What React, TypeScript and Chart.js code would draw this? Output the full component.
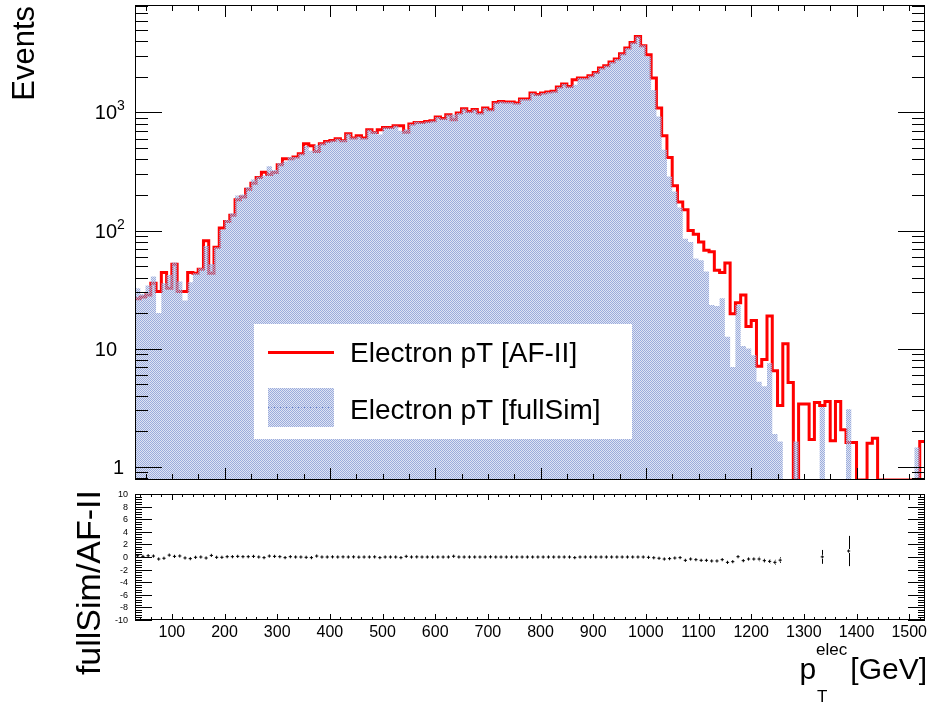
import React, { useEffect, useRef } from "react";
import { Chart, registerables } from "chart.js";

Chart.register(...registerables);

const FONT = "'Liberation Sans', Arial, Helvetica, sans-serif";

// Histogram binning: 150 bins of 10 GeV
const N_BINS = 150;
const PT_MIN = 30;
const BIN_WIDTH = 10;
const PT_MAX = PT_MIN + N_BINS * BIN_WIDTH;

const EVENTS_MIN = 0.771;
const EVENTS_MAX = 8130;
const RATIO_MIN = -10;
const RATIO_MAX = 10;

const binLowEdges = Array.from({ length: N_BINS }, (_, i) => PT_MIN + i * BIN_WIDTH);
const binCenters = binLowEdges.map((e) => e + BIN_WIDTH / 2);

// Electron pT, fast simulation (AF-II)
const afII: number[] = [
  26.4, 27.3, 28.5, 35.8, 30.4, 44, 32.5, 51.9, 30.4, 30.4,
  44, 43.5, 47, 81.8, 43.5, 72.3, 105, 119, 135, 182,
  192, 224, 252, 281, 312, 298, 310, 360, 405, 405,
  419, 447, 543, 522, 467, 543, 568, 578, 598, 576,
  660, 607, 635, 607, 713, 676, 713, 746, 746, 771,
  771, 680, 797, 823, 823, 840, 851, 914, 890, 955,
  867, 988, 1075, 1019, 1060, 988, 1090, 1055, 1216, 1240,
  1225, 1225, 1200, 1298, 1298, 1459, 1420, 1459, 1490, 1510,
  1640, 1740, 1660, 1893, 1955, 1955, 2046, 2183, 2378, 2487,
  2673, 2835, 3143, 3514, 3920, 4404, 3675, 3083, 1955, 1090,
  635, 416, 239, 174, 150, 100, 93, 80, 68, 66,
  46, 44, 53, 19.7, 24.5, 28.5, 15.4, 17.3, 7.1, 8.1,
  18.9, 6.5, 3.3, 11, 5.15, 0, 3.4, 3.4, 1.7, 3.5,
  3.3, 3.56, 1.66, 3.56, 2.05, 1.6, 1.6, 0, 0, 1.58,
  1.74, 0, 0, 0, 0, 0, 0, 0, 0, 1.63,
];

// Electron pT, full simulation
const fullSim: number[] = [
  32.5, 29, 34.2, 40.7, 20, 35.8, 42, 53.5, 37, 25.5,
  36.5, 43.5, 48, 74, 52, 72, 102, 123, 140, 198,
  202, 234, 270, 285, 292, 350, 325, 372, 385, 420,
  420, 447, 520, 475, 530, 545, 568, 578, 598, 585,
  660, 615, 625, 607, 713, 690, 650, 746, 746, 771,
  700, 720, 797, 835, 823, 840, 851, 914, 890, 955,
  960, 988, 1075, 1019, 1060, 988, 1090, 1055, 1216, 1240,
  1225, 1225, 1200, 1298, 1298, 1459, 1420, 1459, 1490, 1510,
  1640, 1740, 1660, 1720, 1955, 1955, 2046, 2183, 2378, 2487,
  2673, 2835, 3143, 3514, 3920, 4404, 3700, 2985, 1550, 925,
  483, 287, 214, 157, 85, 80, 58, 56, 45, 23.4,
  22.9, 26.7, 12.6, 7, 23.4, 10.5, 10, 8.8, 5.25, 4.8,
  7.5, 1.89, 1.63, 0, 0, 1.63, 0, 0, 0, 0,
  3.2, 0, 0, 0, 0, 3.06, 0, 0, 0, 0,
  0, 0, 0, 0, 0, 0, 0, 0, 1.45, 0,
];

// Relative difference fullSim/AF-II per bin (null: no entry)
const ratio: (number | null)[] = [
  0.2, 0.1, 0.2, 0.15, -0.32, -0.2, 0.3, 0.1, 0.16, -0.15,
  -0.26, -0.05, 0.0, -0.16, 0.25, -0.05, -0.05, 0.05, 0.05, 0.1,
  0.05, 0.05, 0.1, 0.0, -0.1, 0.15, 0.1, 0.05, -0.1, 0.05,
  0.0, 0.0, -0.05, -0.1, 0.15, 0.0, 0.0, 0.02, 0.0, 0.02,
  0.0, 0.02, -0.02, 0.0, 0.0, 0.02, -0.1, 0.0, 0.0, 0.0,
  -0.1, 0.1, 0.0, 0.02, 0.0, 0.0, 0.0, 0.0, 0.0, 0.0,
  0.12, 0.0, 0.0, 0.0, 0.0, 0.0, 0.0, 0.02, 0.0, 0.0,
  0.0, 0.0, 0.0, 0.0, 0.0, 0.0, 0.0, 0.0, 0.0, 0.0,
  0.0, 0.0, 0.0, -0.1, 0.0, 0.0, 0.0, 0.0, 0.0, 0.0,
  0.0, 0.0, 0.0, 0.0, 0.0, 0.0, 0.0, -0.05, -0.12, -0.2,
  -0.32, -0.26, -0.16, -0.1, -0.53, -0.32, -0.42, -0.53, -0.53, -0.63,
  -0.63, -0.42, -0.85, -0.74, 0.05, -0.58, -0.32, -0.32, -0.32, -0.58,
  -0.69, -0.85, -0.5, null, null, null, null, null, null, null,
  0.02, null, null, null, null, 0.95, null, null, null, null,
  null, null, null, null, null, null, null, null, null, null,
];

// Statistical uncertainty on the ratio
const ratioErr: number[] = [
  0.2, 0.2, 0.2, 0.2, 0.2, 0.2, 0.2, 0.2, 0.2, 0.2,
  0.15, 0.15, 0.15, 0.15, 0.15, 0.1, 0.1, 0.1, 0.1, 0.1,
  0, 0, 0, 0, 0, 0, 0, 0, 0, 0,
  0, 0, 0, 0, 0, 0, 0, 0, 0, 0,
  0, 0, 0, 0, 0, 0, 0, 0, 0, 0,
  0, 0, 0, 0, 0, 0, 0, 0, 0, 0,
  0, 0, 0, 0, 0, 0, 0, 0, 0, 0,
  0, 0, 0, 0, 0, 0, 0, 0, 0, 0,
  0, 0, 0, 0, 0, 0, 0, 0, 0, 0,
  0, 0, 0, 0, 0, 0, 0, 0, 0.05, 0.05,
  0.06, 0.07, 0.08, 0.09, 0.1, 0.12, 0.13, 0.14, 0.15, 0.18,
  0.2, 0.2, 0.25, 0.3, 0.25, 0.28, 0.3, 0.3, 0.35, 0.35,
  0.35, 0.4, 0.45, 0, 0, 0, 0, 0, 0, 0,
  1.1, 0, 0, 0, 0, 2.4, 0, 0, 0, 0,
  0, 0, 0, 0, 0, 0, 0, 0, 0, 0,
];

const eventsTickLabels = [1, 10, 100, 1000];
const ratioTickLabels = [10, 8, 6, 4, 2, 0, -2, -4, -6, -8, -10];
const ptTickLabels = [100, 200, 300, 400, 500, 600, 700, 800, 900, 1000, 1100, 1200, 1300, 1400, 1500];

const AF_COLOR = "#ff0000";
const FULL_COLOR = "rgb(155,172,220)";
const FULL_COLOR_LIGHT = "rgba(155,172,220,0.32)";

const TOP_H = 488;
const BOT_H = 702 - TOP_H;

function seg(ctx: CanvasRenderingContext2D, x1: number, y1: number, x2: number, y2: number) {
  ctx.beginPath();
  ctx.moveTo(x1, y1);
  ctx.lineTo(x2, y2);
  ctx.stroke();
}

// histogram outline as step points on the bin low edges (+ closing edge)
function stepPoints(values: number[], floor: number) {
  const pts = values.map((v, i) => ({ x: binLowEdges[i], y: v > 0 ? v : floor }));
  const last = values[values.length - 1];
  pts.push({ x: PT_MAX, y: last > 0 ? last : floor });
  return pts;
}

// fine checker fill, lets an underlying outline show through
function makeFillPattern(ctx: CanvasRenderingContext2D) {
  const c = document.createElement("canvas");
  c.width = 2;
  c.height = 2;
  const g = c.getContext("2d")!;
  g.fillStyle = FULL_COLOR;
  g.fillRect(0, 0, 1, 1);
  g.fillRect(1, 1, 1, 1);
  g.fillStyle = FULL_COLOR_LIGHT;
  g.fillRect(1, 0, 1, 1);
  g.fillRect(0, 1, 1, 1);
  return ctx.createPattern(c, "repeat")!;
}

const topDecor = {
  id: "topDecor",
  afterDraw(chart: any) {
    const { ctx, chartArea: a } = chart;
    const xs = chart.scales.x;
    const ys = chart.scales.y;
    const ds = chart.data.datasets;
    ctx.save();

    // legend
    ctx.fillStyle = "#fff";
    ctx.fillRect(254, 324, 378, 115);
    ctx.strokeStyle = ds[1].borderColor;
    ctx.lineWidth = 3;
    seg(ctx, 268, 352.5, 334, 352.5);
    ctx.fillStyle = ds[0].backgroundColor;
    ctx.fillRect(268, 388, 66, 39);
    ctx.setLineDash([1, 2]);
    ctx.lineWidth = 1;
    ctx.strokeStyle = "rgb(110,135,205)";
    seg(ctx, 268, 407.5, 334, 407.5);
    ctx.setLineDash([]);
    ctx.fillStyle = "#000";
    ctx.font = `28px ${FONT}`;
    ctx.textAlign = "left";
    ctx.textBaseline = "alphabetic";
    ctx.fillText(ds[1].label, 350, 362);
    ctx.fillText(ds[0].label, 350, 419);

    // frame
    ctx.strokeStyle = "#000";
    ctx.lineWidth = 1;
    ctx.strokeRect(a.left + 0.5, a.top + 0.5, a.right - a.left - 1, a.bottom - a.top - 1);

    // log ticks on both sides
    for (let d = -1; d <= 4; d++) {
      for (let m = 1; m <= 9; m++) {
        const v = m * Math.pow(10, d);
        if (v < EVENTS_MIN || v > EVENTS_MAX) continue;
        const y = Math.round(ys.getPixelForValue(v)) + 0.5;
        const len = m === 1 ? 27 : 13;
        seg(ctx, a.left, y, a.left + len, y);
        seg(ctx, a.right, y, a.right - len, y);
      }
    }
    // pT ticks on top and bottom edges
    for (let v = 50; v <= 1500; v += 50) {
      const x = Math.round(xs.getPixelForValue(v)) + 0.5;
      const len = v % 200 === 0 ? 12 : 6;
      seg(ctx, x, a.top, x, a.top + len);
      seg(ctx, x, a.bottom, x, a.bottom - len);
    }

    // y labels
    ctx.fillStyle = "#000";
    ctx.textBaseline = "alphabetic";
    for (const v of eventsTickLabels) {
      const y = ys.getPixelForValue(v);
      const exp = Math.round(Math.log10(v));
      ctx.font = `20px ${FONT}`;
      if (exp === 0) {
        ctx.textAlign = "right";
        ctx.fillText("1", 124, y + 7);
      } else {
        ctx.textAlign = "right";
        ctx.fillText("10", 117, y + 7);
        if (exp > 1) {
          ctx.font = `14px ${FONT}`;
          ctx.textAlign = "left";
          ctx.fillText(String(exp), 117, y - 2);
        }
      }
    }

    // y title
    ctx.save();
    ctx.translate(34, 6);
    ctx.rotate(-Math.PI / 2);
    ctx.font = `31px ${FONT}`;
    ctx.textAlign = "right";
    ctx.fillText("Events", 0, 0);
    ctx.restore();

    ctx.restore();
  },
};

const bottomDecor = {
  id: "bottomDecor",
  afterDatasetsDraw(chart: any) {
    const { ctx } = chart;
    const xs = chart.scales.x;
    const ys = chart.scales.y;
    ctx.save();
    ctx.strokeStyle = "#000";
    ctx.lineWidth = 1;
    ratio.forEach((r, i) => {
      const e = ratioErr[i];
      if (r === null || !(e > 0)) return;
      const x = Math.round(xs.getPixelForValue(binCenters[i])) + 0.5;
      const y = ys.getPixelForValue(r);
      const yHi = ys.getPixelForValue(r + e);
      const yLo = ys.getPixelForValue(r - e);
      if (y - yHi > 2) seg(ctx, x, yHi, x, y - 2);
      if (yLo - y > 2) seg(ctx, x, y + 2, x, yLo);
    });
    ctx.restore();
  },
  afterDraw(chart: any) {
    const { ctx, chartArea: a } = chart;
    const xs = chart.scales.x;
    const ys = chart.scales.y;
    ctx.save();
    ctx.strokeStyle = "#000";
    ctx.lineWidth = 1;
    ctx.strokeRect(a.left + 0.5, a.top + 0.5, a.right - a.left - 1, a.bottom - a.top - 1);

    // ratio ticks
    for (let k = 0; k <= 50; k++) {
      const v = RATIO_MIN + k * 0.4;
      const y = Math.round(ys.getPixelForValue(v)) + 0.5;
      const len = k % 5 === 0 ? 17 : 7;
      seg(ctx, a.left, y, a.left + len, y);
      seg(ctx, a.right, y, a.right - len, y);
    }
    for (let v = 40; v <= 1520; v += 20) {
      const x = Math.round(xs.getPixelForValue(v)) + 0.5;
      const len = v % 100 === 0 ? 6 : 3;
      seg(ctx, x, a.top, x, a.top + len);
      seg(ctx, x, a.bottom, x, a.bottom - len);
    }

    ctx.fillStyle = "#000";
    ctx.textBaseline = "alphabetic";
    ctx.font = `9px ${FONT}`;
    ctx.textAlign = "right";
    for (const v of ratioTickLabels) {
      ctx.fillText(String(v), 128, ys.getPixelForValue(v) + 3);
    }
    ctx.font = `16px ${FONT}`;
    ctx.textAlign = "center";
    for (const v of ptTickLabels) {
      ctx.fillText(String(v), xs.getPixelForValue(v), a.bottom + 17);
    }

    // page coordinates from here on
    ctx.translate(0, -TOP_H);

    // x title: p_T^elec [GeV]
    ctx.font = `30px ${FONT}`;
    ctx.textAlign = "left";
    const unit = "[GeV]";
    const wUnit = ctx.measureText(unit).width;
    const xUnit = 927 - wUnit;
    ctx.fillText(unit, xUnit, 679);
    ctx.font = `17px ${FONT}`;
    const wSup = ctx.measureText("elec").width;
    const xSup = xUnit - 3 - wSup;
    ctx.fillText("elec", xSup, 655);
    ctx.fillText("T", xSup + 1, 702);
    ctx.font = `30px ${FONT}`;
    ctx.textAlign = "right";
    ctx.fillText("p", xSup, 679);

    // y title
    ctx.save();
    ctx.translate(100, 490);
    ctx.rotate(-Math.PI / 2);
    ctx.font = `34px ${FONT}`;
    ctx.textAlign = "right";
    ctx.fillText("fullSim/AF-II", 0, 0);
    ctx.restore();

    ctx.restore();
  },
};

export default function App() {
  const topRef = useRef<HTMLCanvasElement>(null);
  const botRef = useRef<HTMLCanvasElement>(null);

  useEffect(() => {
    const topCanvas = topRef.current!;
    const botCanvas = botRef.current!;
    const pattern = makeFillPattern(topCanvas.getContext("2d")!);

    const top = new Chart(topCanvas, {
      type: "line",
      data: {
        datasets: [
          {
            label: "Electron pT [fullSim]",
            data: stepPoints(fullSim, EVENTS_MIN),
            stepped: true,
            borderWidth: 0,
            borderColor: "rgba(0,0,0,0)",
            backgroundColor: pattern as any,
            fill: "start",
            pointRadius: 0,
          },
          {
            label: "Electron pT [AF-II]",
            data: stepPoints(afII, EVENTS_MIN),
            stepped: true,
            borderWidth: 3,
            borderColor: AF_COLOR,
            borderJoinStyle: "miter",
            fill: false,
            pointRadius: 0,
          },
        ],
      },
      options: {
        animation: false,
        responsive: false,
        devicePixelRatio: 1,
        layout: { padding: { left: 135, right: 5, top: 5, bottom: TOP_H - 480 } },
        scales: {
          x: { type: "linear", min: PT_MIN, max: PT_MAX, display: false },
          y: { type: "logarithmic", min: EVENTS_MIN, max: EVENTS_MAX, display: false },
        },
        plugins: { legend: { display: false }, tooltip: { enabled: false } },
        events: [],
      },
      plugins: [topDecor],
    } as any);

    const ratioPoints = ratio
      .map((r, i) => (r === null ? null : { x: binCenters[i], y: r }))
      .filter((p) => p !== null);

    const bottom = new Chart(botCanvas, {
      type: "scatter",
      data: {
        datasets: [
          {
            label: "fullSim/AF-II",
            data: ratioPoints,
            pointStyle: "cross",
            pointRadius: 1.6,
            borderWidth: 1,
            borderColor: "#000",
            backgroundColor: "#000",
          },
        ],
      },
      options: {
        animation: false,
        responsive: false,
        devicePixelRatio: 1,
        layout: { padding: { left: 135, right: 5, top: 494 - TOP_H, bottom: TOP_H + BOT_H - 620 } },
        scales: {
          x: { type: "linear", min: PT_MIN, max: PT_MAX, display: false },
          y: { type: "linear", min: RATIO_MIN, max: RATIO_MAX, display: false },
        },
        plugins: { legend: { display: false }, tooltip: { enabled: false } },
        events: [],
      },
      plugins: [bottomDecor],
    } as any);

    return () => {
      top.destroy();
      bottom.destroy();
    };
  }, []);

  return (
    <div style={{ position: "fixed", left: 0, top: 0, width: 930, height: 702, background: "#fff" }}>
      <canvas
        ref={topRef}
        width={930}
        height={TOP_H}
        style={{ position: "absolute", left: 0, top: 0, width: 930, height: TOP_H }}
      />
      <canvas
        ref={botRef}
        width={930}
        height={BOT_H}
        style={{ position: "absolute", left: 0, top: TOP_H, width: 930, height: BOT_H }}
      />
    </div>
  );
}
